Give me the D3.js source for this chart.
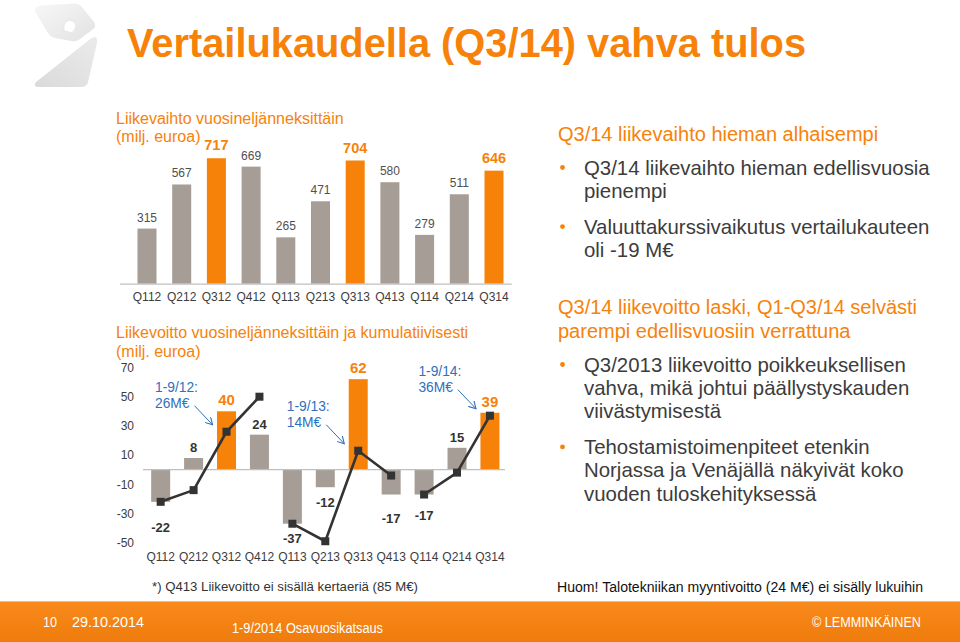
<!DOCTYPE html>
<html><head><meta charset="utf-8">
<script src="https://cdn.jsdelivr.net/npm/d3@7"></script>
<style>body{margin:0;background:#fff;} svg{display:block;font-family:"Liberation Sans",Arial,Helvetica,sans-serif;}</style>
</head><body><svg id="c" width="960" height="642"></svg>
<script>
// ---------- data ----------
const quarters = ["Q112","Q212","Q312","Q412","Q113","Q213","Q313","Q413","Q114","Q214","Q314"];
const revenue = [315,567,717,669,265,471,704,580,279,511,646];
const ebit = [-22,8,40,24,-37,-12,62,-17,-17,15,39];
const ebitCumulative = [-22,-14,26,50,-37,-49,13,-4,-17,-2,37];
const cumulativeGroups = [["Q112","Q212","Q312","Q412"],["Q113","Q213","Q313","Q413"],["Q114","Q214","Q314"]];
const highlighted = ["Q312","Q313","Q314"];
const ebitTicks = [70,50,30,10,-10,-30,-50];
const annotationQuarters = ["Q312","Q313","Q314"];
const annotationTexts = [["1-9/12:","26M€"],["1-9/13:","14M€"],["1-9/14:","36M€"]];

const title = "Vertailukaudella (Q3/14) vahva tulos";
const revenueTitle = ["Liikevaihto vuosineljänneksittäin","(milj. euroa)"];
const ebitTitle = ["Liikevoitto vuosineljänneksittäin ja kumulatiivisesti","(milj. euroa)"];
const block1Heading = ["Q3/14 liikevaihto hieman alhaisempi"];
const block1Bullets = [["Q3/14 liikevaihto hieman edellisvuosia","pienempi"],["Valuuttakurssivaikutus vertailukauteen","oli -19 M€"]];
const block2Heading = ["Q3/14 liikevoitto laski, Q1-Q3/14 selvästi","parempi edellisvuosiin verrattuna"];
const block2Bullets = [["Q3/2013 liikevoitto poikkeuksellisen","vahva, mikä johtui päällystyskauden","viivästymisestä"],["Tehostamistoimenpiteet etenkin","Norjassa ja Venäjällä näkyivät koko","vuoden tuloskehityksessä"]];
const footnoteLeft = "*) Q413 Liikevoitto ei sisällä kertaeriä (85 M€)";
const footnoteRight = "Huom! Talotekniikan myyntivoitto (24 M€) ei sisälly lukuihin";
const footerTexts = ["10","29.10.2014","1-9/2014 Osavuosikatsaus","© LEMMINKÄINEN"];

// ---------- style / layout ----------
const ORANGE = "#f7820a", GREY = "#a69e96", DARK = "#333333", TEXT = "#3c3c3c", BLUE = "#2f6fbe", AXIS = "#bfbfbf";
const negLabelGap = {Q112:30, Q113:19, Q213:19.5, Q413:28.5, Q114:25.5};
const fmt = d => String(d);

const svg = d3.select("#c");
const defs = svg.append("defs");
const fg = defs.append("linearGradient").attr("id","foot").attr("x1",0).attr("y1",0).attr("x2",0).attr("y2",1);
fg.append("stop").attr("offset","0%").attr("stop-color","#f98a1c");
fg.append("stop").attr("offset","100%").attr("stop-color","#ef7c0c");
const lg = defs.append("linearGradient").attr("id","logo").attr("x1",0).attr("y1",0).attr("x2",1).attr("y2",1);
lg.append("stop").attr("offset","0%").attr("stop-color","#f7f7f7");
lg.append("stop").attr("offset","100%").attr("stop-color","#e2e2e2");
const lg2 = defs.append("linearGradient").attr("id","logo2").attr("x1",1).attr("y1",0).attr("x2",0).attr("y2",1);
lg2.append("stop").attr("offset","0%").attr("stop-color","#ebebeb");
lg2.append("stop").attr("offset","100%").attr("stop-color","#dadada");
defs.append("marker").attr("id","arr").attr("viewBox","0 0 8 8").attr("refX",7).attr("refY",4)
  .attr("markerWidth",8).attr("markerHeight",8).attr("markerUnits","userSpaceOnUse").attr("orient","auto")
  .append("path").attr("d","M0,0 L7,4 L0,8").attr("fill","none").attr("stroke",BLUE).attr("stroke-width",1.1);

// logo
const logo = svg.append("g");
logo.append("path").attr("d","M36,13 Q33,6 41,5.5 L73,3.5 Q79,3 82,7 L94,22 Q97,27 92,30 L80,39 Q76,42 71,41 L55,38 Q50,37 48,33 Z").attr("fill","url(#logo)");
logo.append("path").attr("d","M64,31 Q62,22 69,20 Q76,20 76,27 Q75,31 72,33 Z").attr("fill","#fff").attr("stroke","#e9e9e9").attr("stroke-width",1.5);
logo.append("path").attr("d","M36,82 L89,40 Q98,33 97,43 L88,82 Q87,87 81,87 L40,87 Q32,87 36,82 Z").attr("fill","url(#logo2)");

// title
svg.append("text").attr("x",127).attr("y",57).attr("font-size",39.8).attr("font-weight","bold").attr("fill",ORANGE).text(title);

// ---------- revenue chart ----------
const xTop = d3.scaleBand().domain(quarters).range([129.65,511.35]).paddingInner(0.452).paddingOuter(0.226);
const yTop = d3.scaleLinear().domain([0,800]).range([283.7,143.7]);
const gTop = svg.append("g");
revenueTitle.forEach((t,i)=>gTop.append("text").attr("x",116).attr("y",124+i*18).attr("font-size",16).attr("fill",ORANGE).text(t));
gTop.selectAll("rect.b").data(quarters).join("rect")
  .attr("x",q=>xTop(q)).attr("width",xTop.bandwidth())
  .attr("y",(q,i)=>yTop(revenue[i])).attr("height",(q,i)=>yTop(0)-yTop(revenue[i]))
  .attr("fill",q=>highlighted.includes(q)?ORANGE:GREY);
gTop.append("line").attr("x1",120).attr("x2",511.7).attr("y1",yTop(0)+0.5).attr("y2",yTop(0)+0.5).attr("stroke",AXIS).attr("stroke-width",1.2);
gTop.selectAll("text.v").data(quarters).join("text").attr("class","v")
  .attr("x",q=>xTop(q)+xTop.bandwidth()/2)
  .attr("y",(q,i)=>yTop(revenue[i])-(highlighted.includes(q)?8:7))
  .attr("text-anchor","middle")
  .attr("font-size",q=>highlighted.includes(q)?14.5:12)
  .attr("font-weight",q=>highlighted.includes(q)?"bold":"normal")
  .attr("fill",q=>highlighted.includes(q)?ORANGE:"#505050")
  .text((q,i)=>revenue[i]);
const axTop = gTop.append("g").attr("transform",`translate(0,${yTop(0)+8.8})`).call(d3.axisBottom(xTop).tickSize(0).tickPadding(0));
axTop.select(".domain").remove();
axTop.selectAll("text").attr("font-size",12).attr("fill",TEXT).attr("font-family","Liberation Sans, Arial, sans-serif");

// ---------- EBIT chart ----------
const xBot = d3.scaleBand().domain(quarters).range([144.2,506.4]).paddingInner(0.423).paddingOuter(0.2115);
const yBot = d3.scaleLinear().domain([-50,70]).range([542.7,367.5]);
const gBot = svg.append("g");
ebitTitle.forEach((t,i)=>gBot.append("text").attr("x",116).attr("y",338+i*19).attr("font-size",16).attr("fill",ORANGE).text(t));
const axL = gBot.append("g").attr("transform","translate(134,0)").call(d3.axisLeft(yBot).tickValues(ebitTicks).tickFormat(fmt).tickSize(0).tickPadding(0));
axL.select(".domain").remove();
axL.selectAll("text").attr("font-size",12).attr("fill",TEXT).attr("font-family","Liberation Sans, Arial, sans-serif");
gBot.selectAll("rect.b").data(quarters).join("rect")
  .attr("x",q=>xBot(q)).attr("width",xBot.bandwidth())
  .attr("y",(q,i)=>yBot(Math.max(0,ebit[i]))).attr("height",(q,i)=>Math.abs(yBot(ebit[i])-yBot(0)))
  .attr("fill",q=>highlighted.includes(q)?ORANGE:GREY);
gBot.append("line").attr("x1",143).attr("x2",505).attr("y1",yBot(0)).attr("y2",yBot(0)).attr("stroke",AXIS).attr("stroke-width",1.2);
const cx = q=>xBot(q)+xBot.bandwidth()/2;
const cumOf = q=>ebitCumulative[quarters.indexOf(q)];
const line = d3.line().x(q=>cx(q)).y(q=>yBot(cumOf(q)));
gBot.selectAll("path.cum").data(cumulativeGroups).join("path").attr("class","cum")
  .attr("d",line).attr("fill","none").attr("stroke",DARK).attr("stroke-width",2.6).attr("stroke-linejoin","round");
gBot.selectAll("rect.m").data(quarters).join("rect").attr("class","m")
  .attr("x",q=>cx(q)-4).attr("y",q=>yBot(cumOf(q))-4).attr("width",8).attr("height",8).attr("fill",DARK);
gBot.selectAll("text.v").data(quarters).join("text").attr("class","v")
  .attr("x",q=>cx(q))
  .attr("y",(q,i)=>ebit[i]>=0 ? yBot(ebit[i])-6 : yBot(ebit[i])+(negLabelGap[q]||22))
  .attr("text-anchor","middle")
  .attr("font-size",q=>highlighted.includes(q)?15:13)
  .attr("font-weight","bold")
  .attr("fill",q=>highlighted.includes(q)?ORANGE:DARK)
  .text((q,i)=>ebit[i]);
const axB = gBot.append("g").attr("transform","translate(0,552.5)").call(d3.axisBottom(xBot).tickSize(0).tickPadding(0));
axB.select(".domain").remove();
axB.selectAll("text").attr("font-size",12).attr("fill",TEXT).attr("font-family","Liberation Sans, Arial, sans-serif");

// annotations
annotationQuarters.forEach((q,k)=>{
  const ex = cx(q)-14, ey = yBot(cumOf(q))-7;
  const sx = ex-18, sy = ey-19;
  gBot.append("line").attr("x1",sx).attr("y1",sy).attr("x2",ex).attr("y2",ey).attr("stroke",BLUE).attr("stroke-width",1).attr("marker-end","url(#arr)");
  const t2 = gBot.append("text").attr("font-size",13.8).attr("fill",BLUE).attr("y",sy+2.5).text(annotationTexts[k][1]);
  const w = t2.node().getComputedTextLength();
  const left = sx-5-w;
  t2.attr("x",left);
  gBot.append("text").attr("font-size",13.8).attr("fill",BLUE).attr("x",left).attr("y",sy+2.5-16.5).text(annotationTexts[k][0]);
});

// ---------- right text ----------
function block(heading, bullets, y0){
  let y = y0;
  heading.forEach((t,i)=>{ svg.append("text").attr("x",558).attr("y",y).attr("font-size",20).attr("fill",ORANGE).text(t); y+=24; });
  y += 9.5;
  bullets.forEach(lines=>{
    svg.append("circle").attr("cx",562.5).attr("cy",y-7).attr("r",2.4).attr("fill",ORANGE);
    lines.forEach(t=>{ svg.append("text").attr("x",584).attr("y",y).attr("font-size",20.4).attr("fill",TEXT).text(t); y+=23.3; });
    y += 12.5;
  });
}
block(block1Heading, block1Bullets, 141);
block(block2Heading, block2Bullets, 314);

// footnotes
svg.append("text").attr("x",152).attr("y",591).attr("font-size",13).attr("fill","#333").attr("textLength",266).attr("lengthAdjust","spacingAndGlyphs").text(footnoteLeft);
svg.append("text").attr("x",557).attr("y",592).attr("font-size",14).attr("fill","#111").attr("textLength",366).attr("lengthAdjust","spacingAndGlyphs").text(footnoteRight);

// footer
svg.append("rect").attr("x",0).attr("y",601).attr("width",960).attr("height",41).attr("fill","url(#foot)");
svg.append("line").attr("x1",0).attr("x2",960).attr("y1",601.5).attr("y2",601.5).attr("stroke","#fbb877").attr("stroke-width",1);
const fpos = [[43,627,14],[72,627,72],[232,633,151],[812,627,109]];
footerTexts.forEach((t,i)=>svg.append("text").attr("x",fpos[i][0]).attr("y",fpos[i][1]).attr("font-size",14).attr("fill","#fff")
  .attr("textLength",fpos[i][2]).attr("lengthAdjust","spacingAndGlyphs").text(t));
</script></body></html>
